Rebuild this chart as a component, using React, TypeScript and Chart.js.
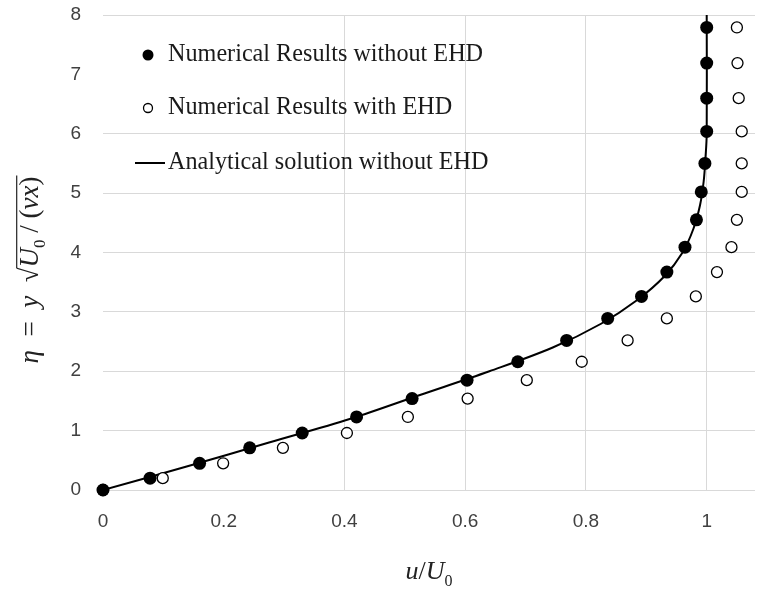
import React, { useEffect, useRef } from "react";
import { Chart, registerables } from "chart.js";

Chart.register(...registerables);

// η levels of the numerical results
const etaLevels = [0, 0.2, 0.45, 0.71, 0.96, 1.23, 1.54, 1.85, 2.16, 2.52, 2.89, 3.26, 3.67, 4.09, 4.55, 5.02, 5.5, 6.04, 6.6, 7.19, 7.79];
// u/U0 without EHD (filled circles)
const uWithoutEHD = [0, 0.078, 0.16, 0.243, 0.33, 0.42, 0.512, 0.603, 0.687, 0.768, 0.836, 0.892, 0.934, 0.964, 0.983, 0.991, 0.997, 1.0, 1.0, 1.0, 1.0];
// u/U0 with EHD (open circles)
const uWithEHD = [0, 0.099, 0.199, 0.298, 0.404, 0.505, 0.604, 0.702, 0.793, 0.869, 0.934, 0.982, 1.017, 1.041, 1.05, 1.058, 1.058, 1.058, 1.053, 1.051, 1.05];
// analytical solution without EHD (line)
const analyticEta = [0, 0.4, 0.8, 1.2, 1.6, 2.0, 2.4, 2.8, 3.2, 3.6, 4.0, 4.4, 4.8, 5.2, 5.6, 6.0, 8.0];
const analyticU = [0, 0.14, 0.275, 0.41, 0.525, 0.64, 0.745, 0.825, 0.885, 0.93, 0.96, 0.978, 0.989, 0.995, 0.998, 1.0, 1.0];

const xTicks = [0, 0.2, 0.4, 0.6, 0.8, 1];
const yTicks = [0, 1, 2, 3, 4, 5, 6, 7, 8];
const hiddenXGrid = [0, 0.2];
const hiddenYGrid = [7];

const legendLabels = [
  "Numerical Results without EHD",
  "Numerical Results with EHD",
  "Analytical solution without EHD",
];

const SERIF = '"Liberation Serif", "Times New Roman", serif';
const SANS = '"Liberation Sans", Arial, sans-serif';

type Seg = { t: string; it?: boolean; sub?: boolean };

function drawSegs(ctx: CanvasRenderingContext2D, segs: Seg[], size: number, cx: number, baseline: number) {
  const fontOf = (s: Seg) => `${s.it ? "italic " : ""}${s.sub ? Math.round(size * 0.62) : size}px ${SERIF}`;
  const widths = segs.map((s) => {
    ctx.font = fontOf(s);
    return ctx.measureText(s.t).width;
  });
  const total = widths.reduce((a, b) => a + b, 0);
  let x = cx - total / 2;
  const pos: [number, number][] = [];
  segs.forEach((s, i) => {
    ctx.font = fontOf(s);
    ctx.fillText(s.t, x, baseline + (s.sub ? size * 0.25 : 0));
    pos.push([x, x + widths[i]]);
    x += widths[i];
  });
  return pos;
}

const overlayPlugin = {
  id: "overlay",
  afterDraw(chart: any) {
    const { ctx, chartArea } = chart;
    ctx.save();
    // legend
    const mx = chartArea.left + 45;
    const tx = chartArea.left + 65;
    const rows = [chartArea.top + 40, chartArea.top + 93, chartArea.top + 148];
    ctx.fillStyle = "#000";
    ctx.strokeStyle = "#000";
    ctx.beginPath();
    ctx.arc(mx, rows[0], 5.5, 0, Math.PI * 2);
    ctx.fill();
    ctx.beginPath();
    ctx.lineWidth = 1.3;
    ctx.arc(mx, rows[1], 4.5, 0, Math.PI * 2);
    ctx.fillStyle = "#fff";
    ctx.fill();
    ctx.stroke();
    ctx.beginPath();
    ctx.lineWidth = 2;
    ctx.moveTo(chartArea.left + 32, rows[2]);
    ctx.lineTo(chartArea.left + 62, rows[2]);
    ctx.stroke();
    ctx.fillStyle = "#1a1a1a";
    ctx.font = `24.2px ${SERIF}`;
    ctx.textBaseline = "middle";
    ctx.textAlign = "left";
    legendLabels.forEach((l, i) => ctx.fillText(l, tx, rows[i]));

    // axis titles
    ctx.textBaseline = "alphabetic";
    ctx.fillStyle = "#222";
    drawSegs(ctx, [{ t: "u", it: true }, { t: "/" }, { t: "U", it: true }, { t: "0", sub: true }], 26, (chartArea.left + chartArea.right) / 2, 579);
    ctx.translate(30, 270);
    ctx.rotate(-Math.PI / 2);
    const size = 27;
    const segs: Seg[] = [
      { t: "η", it: true },
      { t: "  =  " },
      { t: "y", it: true },
      { t: "  √" },
      { t: "U", it: true },
      { t: "0", sub: true },
      { t: " / (" },
      { t: "ν", it: true },
      { t: "x", it: true },
      { t: ")" },
    ];
    const pos = drawSegs(ctx, segs, size, 0, 8);
    ctx.font = `${size}px ${SERIF}`;
    const m = ctx.measureText("√");
    const oy = 8 - m.actualBoundingBoxAscent + 0.7;
    ctx.beginPath();
    ctx.lineWidth = 1.2;
    ctx.strokeStyle = "#222";
    ctx.moveTo(pos[3][1] - 0.5, oy);
    ctx.lineTo(pos[9][1] + 1, oy);
    ctx.stroke();
    ctx.restore();
  },
};

export default function App() {
  const ref = useRef<HTMLCanvasElement | null>(null);
  useEffect(() => {
    if (!ref.current) return;
    const chart = new Chart(ref.current, {
      type: "scatter",
      data: {
        datasets: [
          {
            label: legendLabels[0],
            data: etaLevels.map((e, i) => ({ x: uWithoutEHD[i], y: e })),
            pointRadius: 6.5,
            pointBackgroundColor: "#000",
            pointBorderColor: "#000",
            pointBorderWidth: 0,
            showLine: false,
            clip: false,
            order: 0,
          },
          {
            label: legendLabels[1],
            data: etaLevels.map((e, i) => ({ x: uWithEHD[i], y: e })),
            pointRadius: 5.5,
            pointBackgroundColor: "#fff",
            pointBorderColor: "#000",
            pointBorderWidth: 1.3,
            showLine: false,
            clip: false,
            order: 1,
          },
          {
            label: legendLabels[2],
            data: analyticEta.map((e, i) => ({ x: analyticU[i], y: e })),
            showLine: true,
            borderColor: "#000",
            borderWidth: 2,
            pointRadius: 0,
            tension: 0.35,
            order: 2,
          },
        ],
      },
      options: {
        animation: false,
        responsive: true,
        maintainAspectRatio: false,
        layout: { autoPadding: false, padding: { left: 0, right: 3, top: 15, bottom: 0 } },
        plugins: { legend: { display: false }, tooltip: { enabled: false } },
        scales: {
          x: {
            type: "linear",
            min: 0,
            max: 1.08,
            afterBuildTicks: (s: any) => {
              s.ticks = xTicks.map((v) => ({ value: v }));
            },
            afterFit: (s: any) => {
              s.height = 102;
              s.paddingLeft = 0;
              s.paddingRight = 0;
            },
            border: { display: false },
            grid: {
              drawTicks: false,
              lineWidth: 1,
              color: (c: any) => (c.tick && hiddenXGrid.includes(c.tick.value) ? "rgba(0,0,0,0)" : "#d9d9d9"),
            },
            ticks: {
              padding: 20,
              color: "#404040",
              font: { family: SANS, size: 19 },
              callback: (v: any) => String(v),
            },
          },
          y: {
            type: "linear",
            min: 0,
            max: 8,
            afterBuildTicks: (s: any) => {
              s.ticks = yTicks.map((v) => ({ value: v }));
            },
            afterFit: (s: any) => {
              s.width = 103;
              s.paddingTop = 0;
              s.paddingBottom = 0;
            },
            border: { display: false },
            grid: {
              drawTicks: false,
              lineWidth: 1,
              color: (c: any) => (c.tick && hiddenYGrid.includes(c.tick.value) ? "rgba(0,0,0,0)" : "#d9d9d9"),
            },
            ticks: {
              padding: 22,
              color: "#404040",
              font: { family: SANS, size: 19 },
              callback: (v: any) => String(v),
            },
          },
        },
      },
      plugins: [overlayPlugin],
    });
    return () => chart.destroy();
  }, []);
  return (
    <div style={{ position: "absolute", left: 0, top: 0, width: 758, height: 592, background: "#fff" }}>
      <canvas ref={ref} />
    </div>
  );
}
